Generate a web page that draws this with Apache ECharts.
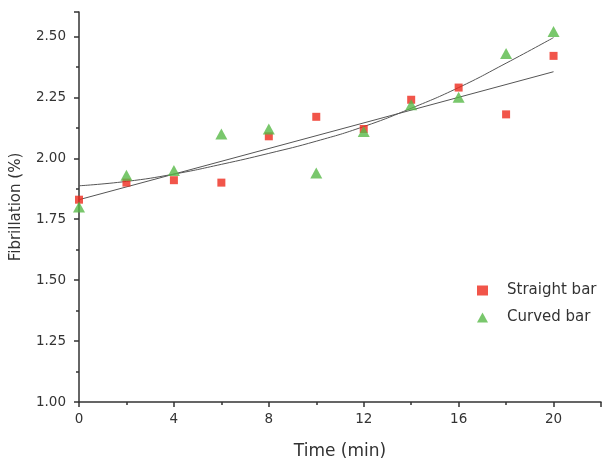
<!DOCTYPE html>
<html>
<head>
<meta charset="utf-8">
<script src="https://cdn.jsdelivr.net/npm/echarts@6/dist/echarts.min.js"></script>
<style>
  html, body { margin: 0; padding: 0; background: #fff; }
  #chart { width: 602px; height: 462px; }
</style>
</head>
<body>
<div id="chart"></div>
<script>
  // data
  var times = [0, 2, 4, 6, 8, 10, 12, 14, 16, 18, 20];
  var straightBar = [1.83, 1.90, 1.91, 1.90, 2.09, 2.17, 2.12, 2.24, 2.29, 2.18, 2.42];
  var curvedBar = [1.80, 1.93, 1.95, 2.10, 2.12, 1.94, 2.11, 2.22, 2.25, 2.43, 2.52];
  // fitted lines
  var fitLine = [[0, 1.83], [20, 2.355]];
  var fitCurveY = [1.887, 1.905, 1.935, 1.975, 2.02, 2.07, 2.13, 2.205, 2.29, 2.39, 2.495];

  function pairs(xs, ys) {
    var out = [];
    for (var i = 0; i < xs.length; i++) out.push([xs[i], ys[i]]);
    return out;
  }

  var chart = echarts.init(document.getElementById('chart'));
  var font = 'DejaVu Sans, Arial, sans-serif';

  var option = {
    animation: false,
    textStyle: { fontFamily: font },
    grid: { left: 79, top: 12, width: 522, height: 390, containLabel: false, outerBoundsMode: 'none' },
    legend: {
      orient: 'vertical',
      left: 472,
      top: 278,
      itemGap: 12,
      itemWidth: 11,
      itemHeight: 10,
      textStyle: { fontFamily: font, fontSize: 15, color: '#333', padding: [0, 0, 0, 14] },
      data: ['Straight bar', 'Curved bar']
    },
    xAxis: {
      type: 'value',
      min: 0,
      max: 22,
      interval: 4,
      name: 'Time (min)',
      nameLocation: 'middle',
      nameGap: 41,
      nameTextStyle: { fontFamily: font, fontSize: 17, color: '#333' },
      axisLine: { lineStyle: { color: '#333', width: 1.5 } },
      axisTick: { inside: false, length: 5, lineStyle: { color: '#333', width: 1.5 } },
      minorTick: { show: true, splitNumber: 2, length: 3, lineStyle: { color: '#333', width: 1.5 } },
      axisLabel: { fontFamily: font, fontSize: 13.5, color: '#333', margin: 10, showMaxLabel: false },
      splitLine: { show: false }
    },
    yAxis: {
      type: 'value',
      min: 1,
      max: 2.6,
      interval: 0.25,
      name: 'Fibrillation (%)',
      nameLocation: 'middle',
      nameGap: 55,
      nameTextStyle: { fontFamily: font, fontSize: 15, color: '#333' },
      axisLine: { lineStyle: { color: '#333', width: 1.5 } },
      axisTick: { inside: false, length: 5, lineStyle: { color: '#333', width: 1.5 } },
      minorTick: { show: true, splitNumber: 2, length: 3, lineStyle: { color: '#333', width: 1.5 } },
      axisLabel: {
        fontFamily: font, fontSize: 13.5, color: '#333', margin: 13, showMaxLabel: false,
        formatter: function (v) { return v.toFixed(2); }
      },
      splitLine: { show: false }
    },
    series: [
      {
        name: 'fit line',
        type: 'line',
        data: fitLine,
        symbol: 'none',
        lineStyle: { color: '#555', width: 1 },
        z: 1
      },
      {
        name: 'fit curve',
        type: 'line',
        data: pairs(times, fitCurveY),
        smooth: true,
        symbol: 'none',
        lineStyle: { color: '#555', width: 1 },
        z: 1
      },
      {
        name: 'Straight bar',
        type: 'scatter',
        data: pairs(times, straightBar),
        symbol: 'rect',
        symbolSize: 8,
        itemStyle: { color: '#ee2a1d' },
        z: 3
      },
      {
        name: 'Curved bar',
        type: 'scatter',
        data: pairs(times, curvedBar),
        symbol: 'triangle',
        symbolSize: [12, 11],
        itemStyle: { color: '#58b947' },
        z: 4
      }
    ]
  };

  chart.setOption(option);
</script>
</body>
</html>
